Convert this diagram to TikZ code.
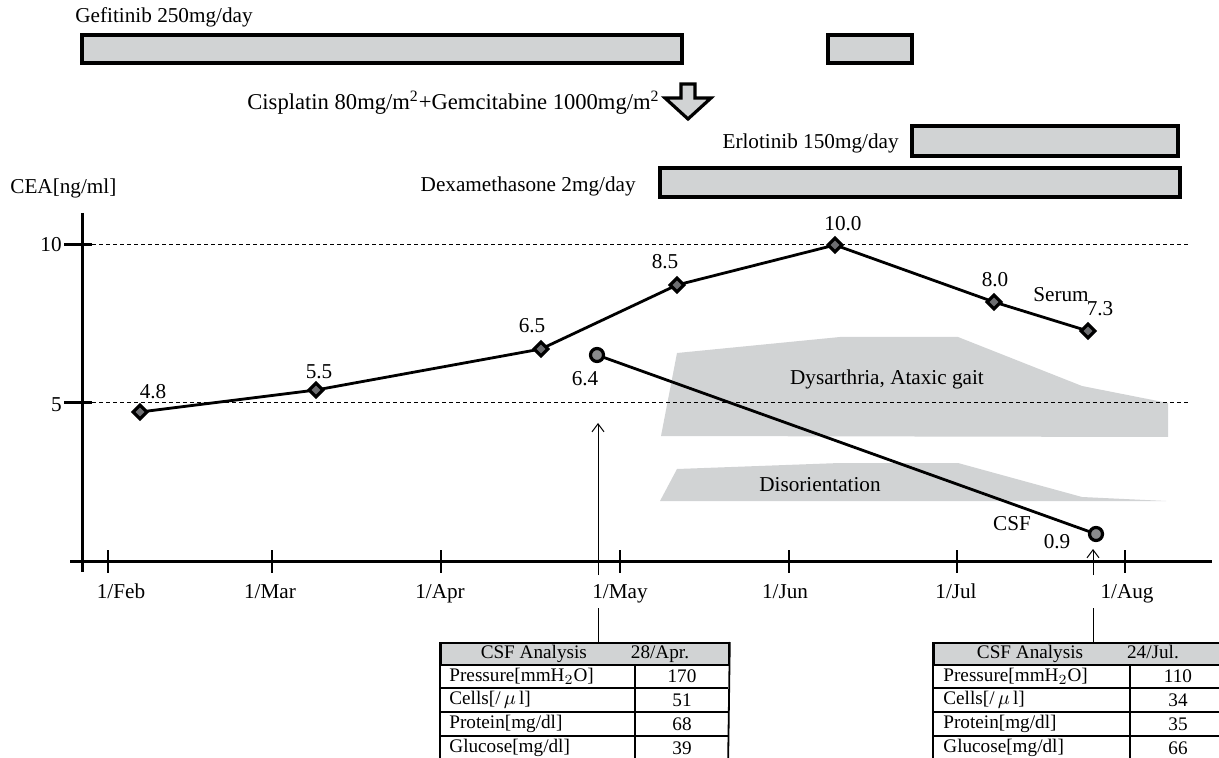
\documentclass[tikz,border=0pt]{standalone}
\usepackage{fontspec}
\setmainfont{Liberation Serif}
\usetikzlibrary{positioning,arrows.meta,shapes.geometric}
\definecolor{barfill}{HTML}{D1D3D4}
\definecolor{markfill}{HTML}{6D6E71}

\begin{document}
\begin{tikzpicture}[x=0.5pt,y=-0.5pt,every node/.style={font=\fontsize{10.6}{12}\selectfont}]
      \tikzstyle{bar}=[draw=black,line width=2pt,fill=barfill];
      \tikzstyle{lab}=[inner sep=0pt];
      \tikzstyle{serum}=[diamond,draw=black,fill=markfill,line width=1.6pt,minimum size=7.5pt,inner sep=0pt];
      \tikzstyle{csf}=[circle,draw=black,fill=markfill!80,line width=1.6pt,minimum size=6.5pt,inner sep=0pt];
      \tikzstyle{curve}=[line width=1.4pt];
      \tikzstyle{axis}=[line width=1.5pt];
      \tikzstyle{grid}=[dashed,dash pattern=on 2pt off 1.5pt,line width=0.5pt];
      \tikzstyle{symptom}=[fill=barfill,draw=none];
      \tikzstyle{pointer}=[-{Straight Barb[length=4pt,width=6pt]},line width=0.5pt];
      \tikzstyle{thead}=[draw,line width=0.9pt,fill=barfill,minimum width=144pt,minimum height=11pt,
                         inner sep=0pt,font=\fontsize{9.6}{10}\selectfont];
      \tikzstyle{cell}=[inner sep=0pt,font=\fontsize{9.6}{10}\selectfont];
      \tikzstyle{rule}=[line width=0.9pt];
      \useasboundingbox (0,0) rectangle (1219,758);
      \clip (0,0) rectangle (1219,758);

      % treatment bars
      \node[lab,anchor=west] (gefLab) at (75,17) {Gefitinib 250mg/day};
      \draw[bar] (82,35) rectangle (682,63);
      \draw[bar] (828,35) rectangle (912,63);
      \node[lab,anchor=east,font=\fontsize{11.3}{13}\selectfont] (cisLab) at (660,103)
           {Cisplatin 80mg/m\textsuperscript{2}+Gemcitabine 1000mg/m\textsuperscript{2}};
      \draw[bar,line width=1.6pt] (681,84) -- (695,84) -- (695,98) -- (711,98) -- (688,119)
           -- (665,98) -- (681,98) -- cycle;
      \node[lab,anchor=east] (erlLab) at (899,143) {Erlotinib 150mg/day};
      \draw[bar] (912,126) rectangle (1178,156);
      \node[lab,anchor=east] (dexLab) at (636,186) {Dexamethasone 2mg/day};
      \draw[bar] (660,168) rectangle (1180,197);

      % symptoms
      \fill[symptom] (661,436) -- (677,353) -- (840,337) -- (958,337) -- (1082,386)
           -- (1168,403) -- (1168,437) -- cycle;
      \fill[symptom] (660,501) -- (677,469) -- (840,463) -- (958,463) -- (1082,497)
           -- (1166,501) -- cycle;
      \node[lab] (dysLab) at (887,379) {Dysarthria, Ataxic gait};
      \node[lab] (disLab) at (820,485) {Disorientation};

      % axes
      \node[lab,anchor=west] (ceaLab) at (10,188) {CEA[ng/ml]};
      \draw[grid] (92,245) -- (1190,245);
      \draw[grid] (92,403) -- (1190,403);
      \draw[axis] (82,213) -- (82,572);
      \draw[axis] (70,561) -- (1212,561);
      \draw[axis] (64,245) -- (92,245);
      \draw[axis] (64,403) -- (92,403);
      \node[lab,anchor=east] (y10) at (62,245) {10};
      \node[lab,anchor=east] (y5) at (62,405) {5};
      \foreach \x/\lx/\m in {108/121/Feb,272/270/Mar,441/440/Apr,620/620/May,789/785/Jun,957/956/Jul,1125/1127/Aug}{
        \draw[line width=1pt] (\x,550) -- (\x,573);
        \node[lab,anchor=base] (m\m) at (\lx,598) {1/\m};
      }

      % serum CEA
      \coordinate (p1) at (140,412);
      \coordinate (p2) at (316,390);
      \coordinate (p3) at (541,349);
      \coordinate (p4) at (677,285);
      \coordinate (p5) at (835,245);
      \coordinate (p6) at (994,302);
      \coordinate (p7) at (1088,331);
      \draw[curve] (p1) -- (p2) -- (p3) -- (p4) -- (p5) -- (p6) -- (p7);
      \foreach \i in {1,...,7} \node[serum] (s\i) at (p\i) {};
      \node[lab] at (153,392) {4.8};
      \node[lab] at (319,372) {5.5};
      \node[lab] at (532,326) {6.5};
      \node[lab] at (665,262) {8.5};
      \node[lab] at (843,224) {10.0};
      \node[lab] at (995,280) {8.0};
      \node[lab] at (1100,309) {7.3};
      \node[lab] (serumLab) at (1061,295) {Serum};

      % CSF CEA
      \coordinate (q1) at (597,355);
      \coordinate (q2) at (1096,534);
      \draw[curve] (q1) -- (q2);
      \node[csf] (c1) at (q1) {};
      \node[csf] (c2) at (q2) {};
      \node[lab] at (585,379) {6.4};
      \node[lab] at (1057,542) {0.9};
      \node[lab] (csfLab) at (1012,524) {CSF};

      % lumbar punctures
      \coordinate (aTop) at (598,423);
      \coordinate (aBot) at (598,575);
      \coordinate (aMid) at (598,608);
      \coordinate (bTop) at (1093,549);
      \coordinate (bBot) at (1093,575);
      \coordinate (bMid) at (1093,608);
      \draw[pointer] (aBot) -- (aTop);
      \draw[pointer] (bBot) -- (bTop);

      % CSF tables
      \node[thead,anchor=north west] (tabA) at (440,642) {CSF Analysis\hspace{22pt}28/Apr.};
      \node[thead,anchor=north west] (tabB) at (933,642) {CSF Analysis\hspace{22pt}24/Jul.};
      \draw[line width=0.5pt] (aMid) -- (aMid |- tabA.north);
      \draw[line width=0.5pt] (bMid) -- (bMid |- tabB.north);
      \draw[rule] (tabA.north west) -- (440,770);
      \draw[rule] (tabA.north east) -- (728,770);
      \draw[rule] (635,664) -- (635,770);
      \draw[rule] (tabB.north west) -- (933,770);
      \draw[rule] (tabB.north east) -- (1221,770);
      \draw[rule] (1130,664) -- (1130,770);
      \foreach \y in {688,712,736}{
        \draw[rule] (440,\y) -- (728,\y);
        \draw[rule] (933,\y) -- (1221,\y);
      }
      \foreach \r/\lab/\va/\vb in {0/{Pressure[mmH$_2$O]}/170/110,1/{Cells[/\,$\mu$\,l]}/51/34,
                                  2/{Protein[mg/dl]}/68/35,3/{Glucose[mg/dl]}/39/66}{
        \node[cell,anchor=west] at (449,676+24*\r) {\lab};
        \node[cell] at (682,676+24*\r) {\va};
        \node[cell,anchor=west] at (943,676+24*\r) {\lab};
        \node[cell] at (1178,676+24*\r) {\vb};
      }
    \end{tikzpicture}
\end{document}
